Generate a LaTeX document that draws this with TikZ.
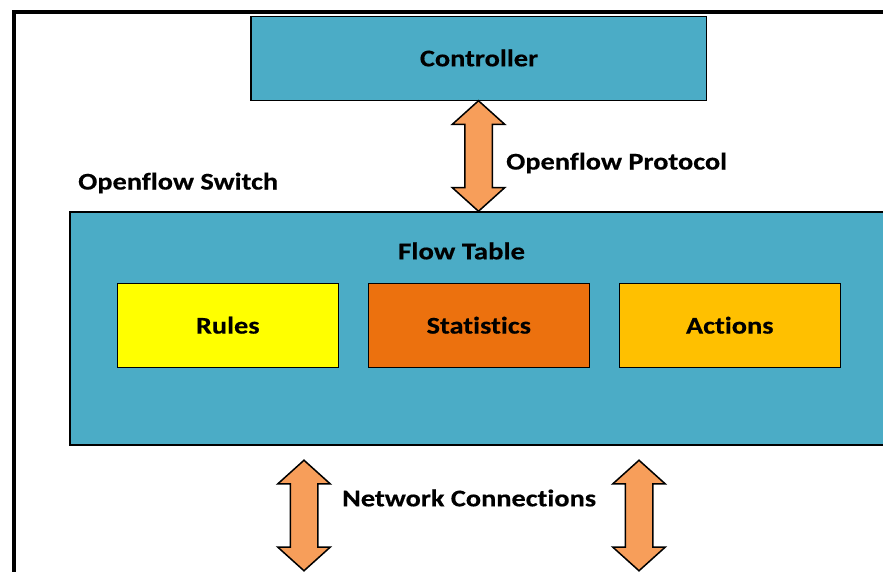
\documentclass[tikz,border=0pt]{standalone}
\usepackage{fontspec}
\setmainfont{Carlito}[FakeStretch=1.18,Ligatures=NoCommon,BoldFeatures={FakeBold=0.4}]
\usetikzlibrary{shapes.arrows}
\definecolor{tealbox}{RGB}{75,172,198}
\definecolor{arrowfill}{RGB}{247,158,90}
\definecolor{statfill}{RGB}{236,113,14}
\definecolor{actfill}{RGB}{255,192,0}
\definecolor{rulefill}{RGB}{255,255,0}
\tikzset{
  box/.style={draw=black,line width=1.5pt,fill=tealbox,anchor=north west,inner sep=0pt},
  cell/.style={draw=black,line width=1.5pt,anchor=north west,minimum width=221pt,minimum height=84pt,inner sep=0pt,font=\bfseries\fontsize{24}{26}\selectfont},
  lbl/.style={font=\bfseries\fontsize{24}{26}\selectfont,inner sep=0pt,anchor=west},
  updown/.style={double arrow,rotate=90,draw=black,line width=1.5pt,fill=arrowfill,minimum height=110.5pt,minimum width=52.5pt,
    inner xsep=0pt,inner ysep=13pt,double arrow head extend=12.5pt,double arrow tip angle=96,shape border uses incircle=false},
}
\begin{document}
\begin{tikzpicture}[x=1pt,y=-1pt]
\useasboundingbox (0,0) rectangle (883,572);
\fill[white] (0,0) rectangle (883,572);
\draw[line width=4.2pt,line cap=butt] (14,572) -- (14,12) -- (883,12);
\node[box,minimum width=455.5pt,minimum height=84pt] (ctrl) at (250,16) {};
\node[font=\bfseries\fontsize{24}{26}\selectfont,inner sep=0pt] (ctrltxt) at (479,58) {Controller};
\begin{scope}
\clip (0,0) rectangle (883,572);
\node[box,minimum width=830pt,minimum height=233pt] (sw) at (69,211) {};
\end{scope}
\node[lbl] (swlbl) at (78,183) {Openflow Switch};
\node[lbl,xscale=1.015] (ftlbl) at (398,251) {Flow Table};
\node[cell,fill=rulefill] (rules) at (116.5,282.5) {Rules};
\node[cell,fill=statfill] (stats) at (367.5,282.5) {Statistics};
\node[cell,fill=actfill] (acts) at (618.5,282.5) {Actions};
\node[updown] (a1) at (478.5,156) {};
\node[lbl] (oplbl) at (506,163) {Openflow Protocol};
\node[updown] (a2) at (304,515.5) {};
\node[updown] (a3) at (639,515.5) {};
\node[lbl] (nclbl) at (342,498) {Network Connections};
\end{tikzpicture}
\end{document}
